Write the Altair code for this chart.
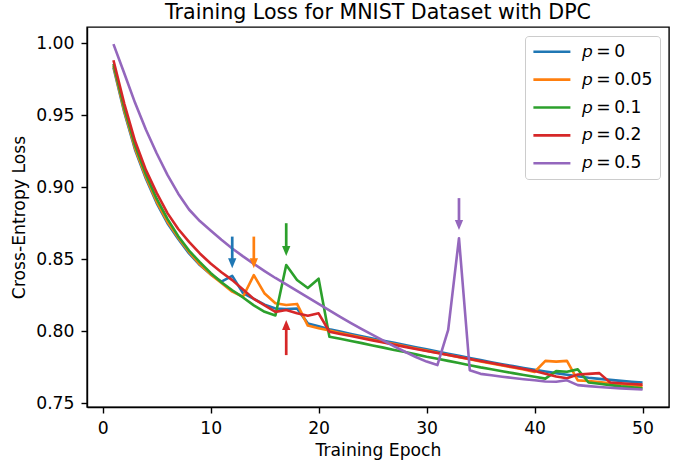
import altair as alt
import pandas as pd

epochs = list(range(1, 51))

loss_p0 = [0.983, 0.952, 0.926, 0.906, 0.889, 0.875, 0.864, 0.854, 0.846, 0.8395,
           0.8345, 0.8385, 0.8265, 0.8225, 0.8185, 0.8158, 0.8155, 0.8158, 0.8055, 0.8035,
           0.8015, 0.7998, 0.7982, 0.7966, 0.795, 0.7935, 0.792, 0.7905, 0.789, 0.7875,
           0.786, 0.7845, 0.783, 0.7815, 0.780, 0.7786, 0.7772, 0.7759, 0.7746, 0.7733,
           0.7721, 0.771, 0.7699, 0.7688, 0.7678, 0.767, 0.7663, 0.7656, 0.765, 0.7645]

loss_p005 = [0.984, 0.953, 0.927, 0.907, 0.890, 0.876, 0.865, 0.855, 0.8465, 0.8395,
             0.8335, 0.8275, 0.824, 0.839, 0.8262, 0.8195, 0.8183, 0.819, 0.804, 0.8022,
             0.8005, 0.7989, 0.7973, 0.7957, 0.7941, 0.7926, 0.7911, 0.7896, 0.7881, 0.7866,
             0.7851, 0.7836, 0.7821, 0.7806, 0.7791, 0.7777, 0.7763, 0.7749, 0.7735, 0.7718,
             0.7795, 0.779, 0.7795, 0.766, 0.7655, 0.7648, 0.764, 0.7633, 0.7626, 0.762]

loss_p01 = [0.9855, 0.955, 0.929, 0.909, 0.892, 0.878, 0.866, 0.856, 0.848, 0.8405,
            0.834, 0.8285, 0.8235, 0.818, 0.8135, 0.811, 0.846, 0.8356, 0.830, 0.8365,
            0.7963, 0.7948, 0.7933, 0.7918, 0.7902, 0.7887, 0.7871, 0.7856, 0.784, 0.7824,
            0.781, 0.7795, 0.778, 0.7765, 0.775, 0.7737, 0.7723, 0.771, 0.7697, 0.7685,
            0.7672, 0.7724, 0.772, 0.7736, 0.7645, 0.7636, 0.7627, 0.7618, 0.7611, 0.7604]

loss_p02 = [0.988, 0.958, 0.932, 0.912, 0.896, 0.882, 0.871, 0.862, 0.854, 0.847,
            0.841, 0.8355, 0.829, 0.8225, 0.818, 0.8135, 0.8148, 0.8125, 0.8108, 0.8125,
            0.7997, 0.7982, 0.7967, 0.7952, 0.7937, 0.7922, 0.7907, 0.7892, 0.7878, 0.7864,
            0.785, 0.7836, 0.7822, 0.7808, 0.7794, 0.778, 0.7766, 0.7752, 0.7738, 0.7725,
            0.7705, 0.7686, 0.7675, 0.770, 0.7705, 0.771, 0.7645, 0.764, 0.7635, 0.763]

loss_p05 = [0.9992, 0.979, 0.9585, 0.940, 0.9235, 0.9085, 0.8955, 0.8845, 0.8765, 0.870,
            0.8635, 0.8575, 0.852, 0.8468, 0.8418, 0.837, 0.8325, 0.828, 0.8235, 0.819,
            0.8145, 0.810, 0.8057, 0.8015, 0.7975, 0.7935, 0.7895, 0.7858, 0.7822, 0.779,
            0.7766, 0.801, 0.8646, 0.773, 0.7705, 0.7695, 0.7685, 0.7676, 0.7668, 0.766,
            0.7652, 0.765, 0.766, 0.7627, 0.762, 0.7614, 0.7609, 0.7604, 0.760, 0.7596]

p_values = ["0", "0.05", "0.1", "0.2", "0.5"]
series_labels = ["\U0001D631\u2009=\u2009" + v for v in p_values]
series_colors = ["#1f77b4", "#ff7f0e", "#2ca02c", "#d62728", "#9467bd"]
all_losses = [loss_p0, loss_p005, loss_p01, loss_p02, loss_p05]

# arrows (pointing down): series index, epoch, tail value, tip value
down_series = [0, 1, 2, 4]
down_epochs = [12, 14, 17, 33]
down_tails = [0.8657, 0.8657, 0.875, 0.8924]
down_tips = [0.8437, 0.8437, 0.8523, 0.8703]
# arrow (pointing up)
up_series = [3]
up_epochs = [17]
up_tails = [0.7835]
up_tips = [0.8078]

rows = []
for lab, vals in zip(series_labels, all_losses):
    for e, v in zip(epochs, vals):
        rows.append({"epoch": e, "loss": v, "series": lab})
df = pd.DataFrame(rows)

df_down = pd.DataFrame({
    "epoch": down_epochs,
    "tail": down_tails,
    "tip": down_tips,
    "series": [series_labels[i] for i in down_series],
})
df_up = pd.DataFrame({
    "epoch": up_epochs,
    "tail": up_tails,
    "tip": up_tips,
    "series": [series_labels[i] for i in up_series],
})

FONT = "DejaVu Sans"
xscale = alt.Scale(domain=[-1.45, 52.45], nice=False, zero=False)
yscale = alt.Scale(domain=[0.7475, 1.0111], nice=False, zero=False)
cscale = alt.Scale(domain=series_labels, range=series_colors)

xaxis = alt.Axis(values=[0, 10, 20, 30, 40, 50], title="Training Epoch")
yaxis = alt.Axis(values=[0.75, 0.80, 0.85, 0.90, 0.95, 1.00], format=".2f",
                 title="Cross-Entropy Loss")


def X():
    return alt.X("epoch:Q", scale=xscale, axis=xaxis)


lines = alt.Chart(df).mark_line(strokeWidth=2.6, strokeJoin="round").encode(
    x=X(),
    y=alt.Y("loss:Q", scale=yscale, axis=yaxis),
    color=alt.Color("series:N", scale=cscale, title=None,
                    legend=alt.Legend(title=None)),
)

down_rules = alt.Chart(df_down).mark_rule(strokeWidth=2.7, y2Offset=-8).encode(
    x=X(),
    y=alt.Y("tail:Q", scale=yscale, axis=yaxis),
    y2="tip:Q",
    color=alt.Color("series:N", scale=cscale, legend=None),
)
down_heads = alt.Chart(df_down).mark_point(
    shape="M-0.83,-1L0.83,-1L0,1Z", size=100, filled=True, opacity=1,
    strokeWidth=0, yOffset=-5,
).encode(
    x=X(),
    y=alt.Y("tip:Q", scale=yscale, axis=yaxis),
    color=alt.Color("series:N", scale=cscale, legend=None),
)
up_rules = alt.Chart(df_up).mark_rule(strokeWidth=2.7, y2Offset=8).encode(
    x=X(),
    y=alt.Y("tail:Q", scale=yscale, axis=yaxis),
    y2="tip:Q",
    color=alt.Color("series:N", scale=cscale, legend=None),
)
up_heads = alt.Chart(df_up).mark_point(
    shape="M-0.83,1L0.83,1L0,-1Z", size=100, filled=True, opacity=1,
    strokeWidth=0, yOffset=5,
).encode(
    x=X(),
    y=alt.Y("tip:Q", scale=yscale, axis=yaxis),
    color=alt.Color("series:N", scale=cscale, legend=None),
)

chart = alt.layer(lines, down_rules, down_heads, up_rules, up_heads).properties(
    width=582,
    height=380,
    title=alt.TitleParams(
        "Training Loss for MNIST Dataset with DPC",
        fontSize=20.6, font=FONT, fontWeight="normal", color="black",
        anchor="middle", offset=3,
    ),
    autosize=alt.AutoSizeParams(type="none"),
    padding={"left": 87, "top": 27, "right": 17, "bottom": 59},
).configure_view(
    stroke="black", strokeWidth=1.4,
).configure_axis(
    grid=False,
    domainColor="black", domainWidth=1.4,
    tickColor="black", tickWidth=1.4, tickSize=6,
    labelFont=FONT, labelFontSize=17.2, labelColor="black",
    titleFont=FONT, titleFontSize=17.2, titleColor="black",
    titleFontWeight="normal",
).configure_axisX(
    labelPadding=6, titlePadding=5,
).configure_axisY(
    labelPadding=7, titlePadding=7,
).configure_legend(
    orient="top-right", offset=8.6, padding=6.9, rowPadding=8.9,
    clipHeight=17.6, symbolType="stroke", symbolSize=1369,
    symbolStrokeWidth=2.6, labelFont=FONT, labelFontSize=17.2,
    labelColor="black", labelOffset=10,
    strokeColor="#cccccc", fillColor="rgba(255,255,255,0.8)", cornerRadius=3.4,
)

chart.save("out.html", embed_options={"renderer": "svg", "actions": False})
